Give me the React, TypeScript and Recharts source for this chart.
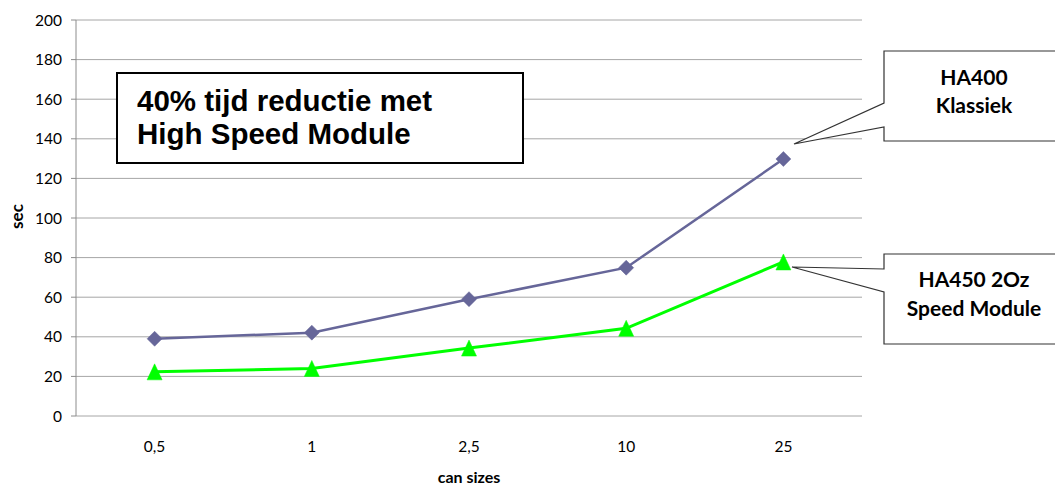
import React from 'react';
import { LineChart, Line, XAxis, YAxis, CartesianGrid } from 'recharts';

const canSizes = ['0,5', '1', '2,5', '10', '25'];
const klassiek = [39, 42.1, 59, 74.9, 129.8];
const speedModule = [22.3, 24, 34.3, 44.3, 77.8];
const yTicks = [0, 20, 40, 60, 80, 100, 120, 140, 160, 180, 200];
const boundaryTicks = [0, 1, 2, 3, 4, 5];

const data = canSizes.map((size, i) => ({
  size,
  klassiek: klassiek[i],
  speed: speedModule[i],
}));

const PURPLE = '#666699';
const GREEN = '#00ff00';
const GRID = '#a6a6a6';
const AXIS = '#8c8c8c';
const CAL = 'Lato, "Open Sans", sans-serif';
const ARIAL = '"Liberation Sans", Arial, sans-serif';

const Diamond = (props: any) => {
  const { cx, cy } = props;
  if (cx == null || cy == null) return null;
  const r = 7.5;
  return (
    <polygon
      points={`${cx},${cy - r} ${cx + r},${cy} ${cx},${cy + r} ${cx - r},${cy}`}
      fill={PURPLE}
      stroke={PURPLE}
      strokeWidth={0.5}
    />
  );
};

const Triangle = (props: any) => {
  const { cx, cy } = props;
  if (cx == null || cy == null) return null;
  const w = 7.5;
  const h = 8;
  return (
    <polygon
      points={`${cx},${cy - h} ${cx + w},${cy + h} ${cx - w},${cy + h}`}
      fill={GREEN}
      stroke={GREEN}
      strokeWidth={0.5}
    />
  );
};

export default function App() {
  return (
    <div style={{ position: 'absolute', left: 0, top: 0, width: 1055, height: 487, background: '#fff' }}>
      <LineChart
        width={1055}
        height={487}
        data={data}
        margin={{ top: 20, right: 193, bottom: 0, left: 0 }}
      >
        <CartesianGrid horizontal vertical={false} stroke={GRID} strokeWidth={1} xAxisId="cat" />
        <XAxis
          xAxisId="grid"
          type="number"
          domain={[0, 5]}
          ticks={boundaryTicks}
          tickFormatter={() => ''}
          height={0}
          tickSize={5}
          axisLine={{ stroke: AXIS }}
          tickLine={{ stroke: AXIS }}
          allowDataOverflow
        />
        <XAxis
          xAxisId="cat"
          dataKey="size"
          padding={{ left: 78.6, right: 78.6 }}
          height={71}
          axisLine={false}
          tickLine={false}
          tickSize={0}
          tickMargin={25}
          tick={{ fontFamily: CAL, fontSize: 15.5, fill: '#000' }}
          interval={0}
        />
        <YAxis
          domain={[0, 200]}
          ticks={yTicks}
          width={76}
          tickSize={5}
          tickMargin={9}
          axisLine={{ stroke: AXIS }}
          tickLine={{ stroke: AXIS }}
          tick={{ fontFamily: CAL, fontSize: 15.5, fill: '#000' }}
          interval={0}
        />
        <Line
          xAxisId="cat"
          dataKey="klassiek"
          stroke={PURPLE}
          strokeWidth={2.5}
          dot={<Diamond />}
          activeDot={false}
          isAnimationActive={false}
        />
        <Line
          xAxisId="cat"
          dataKey="speed"
          stroke={GREEN}
          strokeWidth={3}
          dot={<Triangle />}
          activeDot={false}
          isAnimationActive={false}
        />
      </LineChart>
      <svg
        width={1055}
        height={487}
        style={{ position: 'absolute', left: 0, top: 0, pointerEvents: 'none' }}
      >
        <text
          x={23}
          y={216.5}
          transform="rotate(-90, 23, 216.5)"
          textAnchor="middle"
          fontFamily={CAL}
          fontWeight="bold"
          fontSize={17}
          fill="#000"
        >
          sec
        </text>
        <text x={469} y={483} textAnchor="middle" fontFamily={CAL} fontWeight="bold" fontSize={16} fill="#000">
          can sizes
        </text>

        <rect x={117} y={73} width={406} height={90} fill="#fff" stroke="#000" strokeWidth={2} />
        <text x={137} y={110.5} fontFamily={ARIAL} fontWeight="bold" fontSize={29.5} fill="#000">
          40% tijd reductie met
        </text>
        <text x={137} y={144} fontFamily={ARIAL} fontWeight="bold" fontSize={29.5} fill="#000">
          High Speed Module
        </text>

        <path
          d="M1060,51 H884 V103 L794,144 L884,127 V141 H1060"
          fill="#fff"
          stroke="#333"
          strokeWidth={1.2}
        />
        <text x={974} y={85} textAnchor="middle" fontFamily={CAL} fontWeight="bold" fontSize={21} fill="#000">
          HA400
        </text>
        <text x={974} y={113} textAnchor="middle" fontFamily={CAL} fontWeight="bold" fontSize={21} fill="#000">
          Klassiek
        </text>

        <path
          d="M1060,254 H884 V269 L792,267 L884,292 V344 H1060"
          fill="#fff"
          stroke="#333"
          strokeWidth={1.2}
        />
        <text x={974} y={287} textAnchor="middle" fontFamily={CAL} fontWeight="bold" fontSize={21} fill="#000">
          HA450 2Oz
        </text>
        <text x={974} y={316} textAnchor="middle" fontFamily={CAL} fontWeight="bold" fontSize={21} fill="#000">
          Speed Module
        </text>
      </svg>
    </div>
  );
}
